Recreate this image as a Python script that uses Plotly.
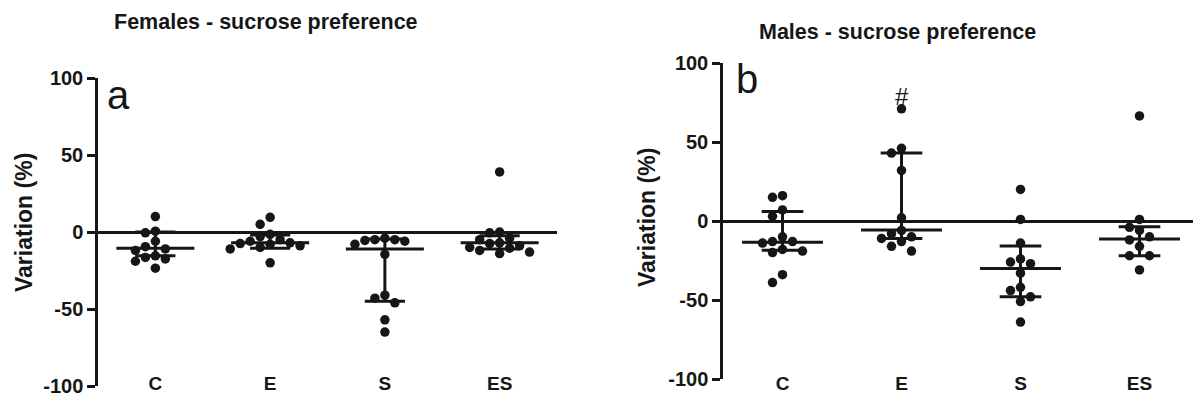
import plotly.graph_objects as go

categories = ["C", "E", "S", "ES"]
y_tick_values = [-100, -50, 0, 50, 100]
y_tick_labels = ["-100", "-50", "0", "50", "100"]

# Females - variation (%) per animal
fem_C = [10, 0.5, -0.5, -6, -9.5, -11, -12, -15.5, -16.5, -17.5, -19, -23.5]
fem_E = [9.5, 5, -1.5, -3, -5, -6, -7, -7.5, -8, -9, -10, -11, -20]
fem_S = [-4, -5, -5, -5.5, -6, -8, -14.5, -41, -43, -46, -57, -65]
fem_ES = [39, 0, -0.5, -4, -5, -7, -7.5, -9, -10, -10.5, -12, -13, -14]
fem_median = [-10.5, -7, -11, -7]
fem_q3 = [0, -2, -4.5, -2.5]
fem_q1 = [-15.5, -10.5, -45, -11]

# Males - variation (%) per animal
male_C = [16, 15, 7, 3, -10, -13, -13, -14, -18, -19, -20, -34, -39]
male_E = [71, 46, 43, 32, 2, -6, -8, -10, -11, -13, -16, -19]
male_S = [20, 1, -14, -24, -26, -27, -33, -42, -44, -48, -51, -64]
male_ES = [66.5, 1, -4, -6, -10, -12, -16, -22, -22, -31]
male_median = [-13.5, -5.7, -30, -11.4]
male_q3 = [6, 43, -15.8, -3.6]
male_q1 = [-18.5, -11, -48, -22]

INK = "#161616"
FONT = "Arial, Liberation Sans, sans-serif"
OX, OY = 8, 8            # page body margin
W, H = 1201 - OX, 401 - OY


def swarm(vals, px_per_x, px_per_y, diam=10.0, step=10.0):
    placed = []
    offs = [0.0] * len(vals)
    order = sorted(range(len(vals)), key=lambda i: -vals[i])
    cands = [0.0]
    for j in range(1, 12):
        cands += [-j * step, j * step]
    for i in order:
        y = vals[i] * px_per_y
        chosen = cands[-1]
        for c in cands:
            if all((c - px) ** 2 + (y - py) ** 2 >= (diam * 0.95) ** 2 for px, py in placed):
                chosen = c
                break
        placed.append((chosen, y))
        offs[i] = chosen / px_per_x
    return offs


def panel_traces(groups, med, q1, q3, xa, ya, px_x, px_y):
    traces = []
    lx, ly = [], []
    for i in range(len(categories)):
        for (x0, x1, y0, y1) in [
            (i - 0.34, i + 0.34, med[i], med[i]),
            (i - 0.175, i + 0.175, q3[i], q3[i]),
            (i - 0.175, i + 0.175, q1[i], q1[i]),
            (i, i, q1[i], q3[i]),
        ]:
            lx += [x0, x1, None]
            ly += [y0, y1, None]
    traces.append(go.Scatter(x=lx, y=ly, mode="lines", xaxis=xa, yaxis=ya,
                             line=dict(color=INK, width=3), hoverinfo="skip",
                             showlegend=False))
    px, py = [], []
    for i, vals in enumerate(groups):
        offs = swarm(vals, px_x, px_y)
        px += [i + o for o in offs]
        py += list(vals)
    traces.append(go.Scatter(x=px, y=py, mode="markers", xaxis=xa, yaxis=ya,
                             marker=dict(color=INK, size=9.5, line=dict(width=0)),
                             showlegend=False))
    return traces


fig = go.Figure()
for t in panel_traces([fem_C, fem_E, fem_S, fem_ES], fem_median, fem_q1, fem_q3,
                      "x", "y", 115, 1.54):
    fig.add_trace(t)
for t in panel_traces([male_C, male_E, male_S, male_ES], male_median, male_q1, male_q3,
                      "x2", "y2", 119, 1.58):
    fig.add_trace(t)


def px2y(p):
    return 1 - (p - OY) / H


def px2x(p):
    return (p - OX) / W


xcommon = dict(range=[-0.5, 3.5], showline=False, showgrid=False, zeroline=False,
               ticks="", tickvals=list(range(len(categories))), ticktext=categories,
               tickfont=dict(family=FONT, size=19, color=INK, weight="bold"),
               anchor="free", position=px2y(370), automargin=False, fixedrange=True)
ycommon = dict(range=[-100, 100], showline=True, linecolor=INK, linewidth=2.5,
               ticks="outside", ticklen=8, tickwidth=2.5, tickcolor=INK,
               tickvals=y_tick_values, ticktext=y_tick_labels, showgrid=False,
               zeroline=True, zerolinecolor=INK, zerolinewidth=2.5,
               automargin=False, fixedrange=True,
               tickfont=dict(family=FONT, size=20, color=INK, weight="bold"))

fig.update_layout(
    template="none",
    width=W, height=H,
    margin=dict(l=0, r=0, t=0, b=0, pad=0),
    paper_bgcolor="white", plot_bgcolor="white",
    showlegend=False,
    xaxis=dict(domain=[px2x(98), px2x(557)], **xcommon),
    yaxis=dict(domain=[px2y(386), px2y(78)], anchor="x", **ycommon),
    xaxis2=dict(domain=[px2x(723), min(1.0, px2x(1199))], **xcommon),
    yaxis2=dict(domain=[px2y(379), px2y(63)], anchor="x2", **ycommon),
)

ann = []
ann.append(dict(text="Females - sucrose preference", x=px2x(266), y=px2y(22),
                xref="paper", yref="paper", showarrow=False,
                xanchor="center", yanchor="middle",
                font=dict(family=FONT, size=21.5, color=INK, weight="bold")))
ann.append(dict(text="Males - sucrose preference", x=px2x(897), y=px2y(32),
                xref="paper", yref="paper", showarrow=False,
                xanchor="center", yanchor="middle",
                font=dict(family=FONT, size=21.5, color=INK, weight="bold")))
ann.append(dict(text="Variation (%)", x=px2x(24), y=px2y(223), textangle=-90,
                xref="paper", yref="paper", showarrow=False,
                xanchor="center", yanchor="middle",
                font=dict(family=FONT, size=23, color=INK, weight="bold")))
ann.append(dict(text="Variation (%)", x=px2x(647), y=px2y(218), textangle=-90,
                xref="paper", yref="paper", showarrow=False,
                xanchor="center", yanchor="middle",
                font=dict(family=FONT, size=23, color=INK, weight="bold")))
ann.append(dict(text="a", x=px2x(105), y=px2y(95), xanchor="left", yanchor="middle",
                xref="paper", yref="paper", showarrow=False,
                font=dict(family=FONT, size=40, color=INK)))
ann.append(dict(text="b", x=px2x(734), y=px2y(79), xanchor="left", yanchor="middle",
                xref="paper", yref="paper", showarrow=False,
                font=dict(family=FONT, size=40, color=INK)))
ann.append(dict(text="#", x=1, y=78.5, xref="x2", yref="y2", showarrow=False,
                xanchor="center", yanchor="middle",
                font=dict(family=FONT, size=24, color=INK)))
fig.update_layout(annotations=ann)

fig.write_html("out.html")
